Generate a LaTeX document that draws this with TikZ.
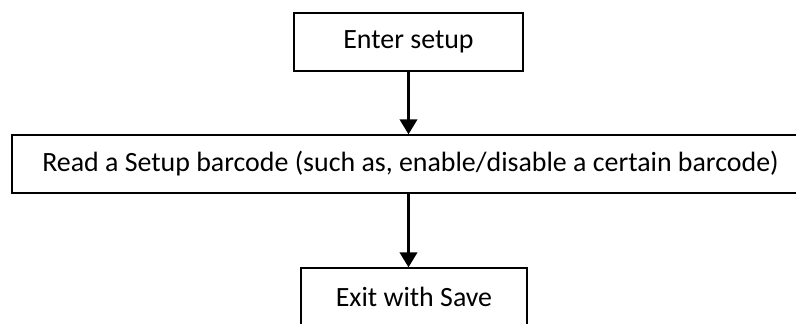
\documentclass[tikz,border=0pt]{standalone}
\usepackage{fontspec}
\setmainfont{Carlito}
\usetikzlibrary{positioning,arrows.meta}

\tikzset{
	flowbox/.style={draw=black, line width=1.2bp, minimum height=58bp, inner sep=0pt, font=\fontsize{28}{33}\selectfont},
	flowarrow/.style={line width=3.5bp, -{Triangle[length=15bp,width=17bp]}}
}

\begin{document}
\begin{tikzpicture}[x=1bp,y=-1bp]
			\useasboundingbox (0,0) rectangle (796,323);
			\node[flowbox, minimum width=229bp] (enter) at (408.5,42) {Enter setup};
			\node[flowbox, minimum width=797bp] (read) at (410.5,164) {Read a Setup barcode (such as, enable/disable a certain barcode)};
			\node[flowbox, minimum width=226bp] (exit) at (414,297) {Exit with Save};
			\draw[flowarrow] (enter.south) -- (enter.south |- read.north);
			\draw[flowarrow] (enter.south |- read.south) -- (enter.south |- exit.north);
		\end{tikzpicture}
\end{document}
